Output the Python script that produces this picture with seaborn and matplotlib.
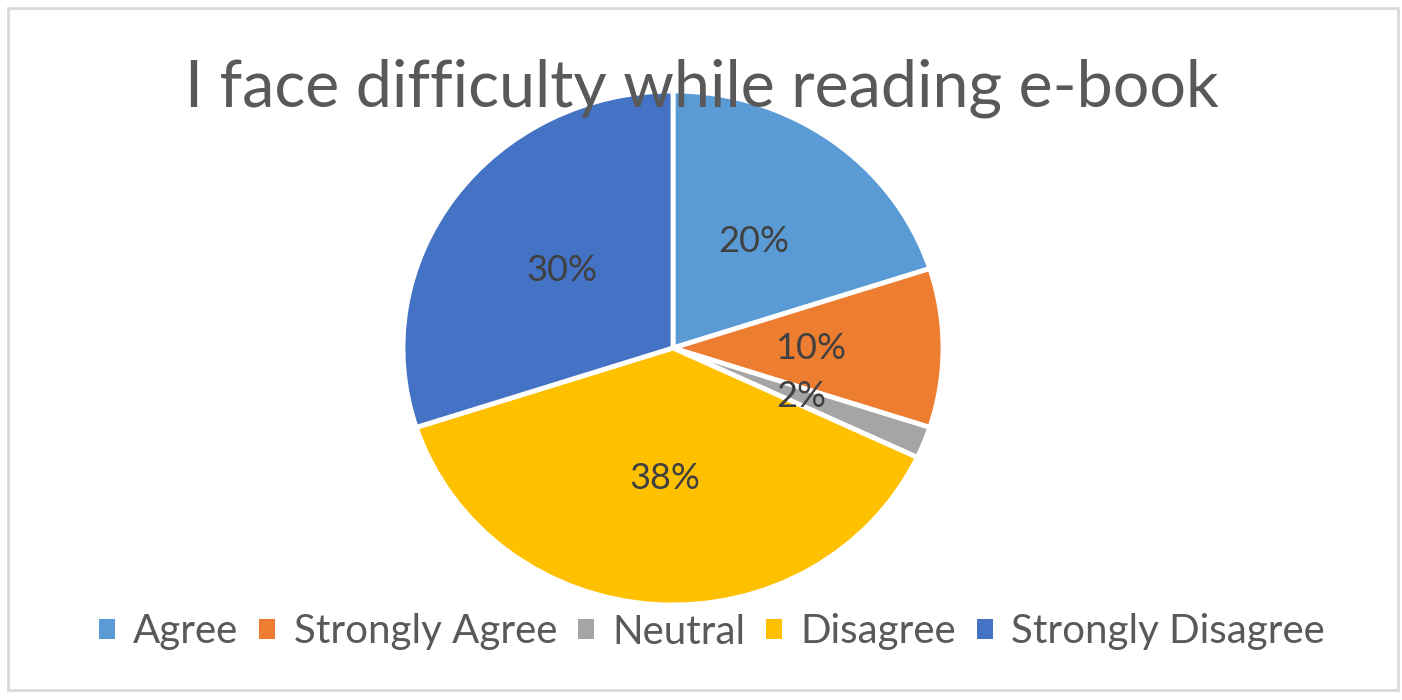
import matplotlib
matplotlib.use("Agg")
import matplotlib.pyplot as plt
from matplotlib.patches import Rectangle
import seaborn as sns

categories = ["Agree", "Strongly Agree", "Neutral", "Disagree", "Strongly Disagree"]
values = [20, 10, 2, 38, 30]
colors = ["#5B9BD5", "#ED7D31", "#A5A5A5", "#FFC000", "#4472C4"]
title = "I face difficulty while reading e-book"

sns.set_theme(style="white")
plt.rcParams['font.family'] = ['Lato', 'DejaVu Sans']

W, H = 1402, 700
fig = plt.figure(figsize=(W / 100, H / 100), dpi=100)
fig.patch.set_facecolor("white")

cx, cy, rx, ry = 673, 348, 270, 257
ax = fig.add_axes([(cx - rx) / W, (H - cy - ry) / H, 2 * rx / W, 2 * ry / H])
palette = sns.color_palette(colors)
wedges, texts, autotexts = ax.pie(
    values, colors=palette, startangle=90, counterclock=False,
    autopct=lambda p: f"{p:.0f}%", pctdistance=0.51,
    wedgeprops=dict(edgecolor="white", linewidth=3.5),
    textprops=dict(fontsize=26, color="#404040"))
ax.set_aspect("auto")
ax.set_xlim(-1, 1)
ax.set_ylim(-1, 1)
ax.axis("off")

fig.text(702 / W, 1 - 88 / H, title, ha="center", va="center",
         fontsize=46.5, color="#595959", zorder=10)

leg = fig.legend(wedges, categories, loc="center", bbox_to_anchor=(712 / W, 1 - 632 / H),
                 ncol=5, frameon=False, fontsize=29, handlelength=0.4, handleheight=0.4,
                 handletextpad=0.45, columnspacing=0.52, labelcolor="#595959")
for h in leg.legend_handles:
    h.set_edgecolor("none")

fig.patches.append(Rectangle((8 / W, 1 - 690 / H), 1390 / W, 682 / H, transform=fig.transFigure,
                             fill=False, edgecolor="#D9D9D9", linewidth=2, figure=fig))

fig.savefig("out.png", dpi=100)
